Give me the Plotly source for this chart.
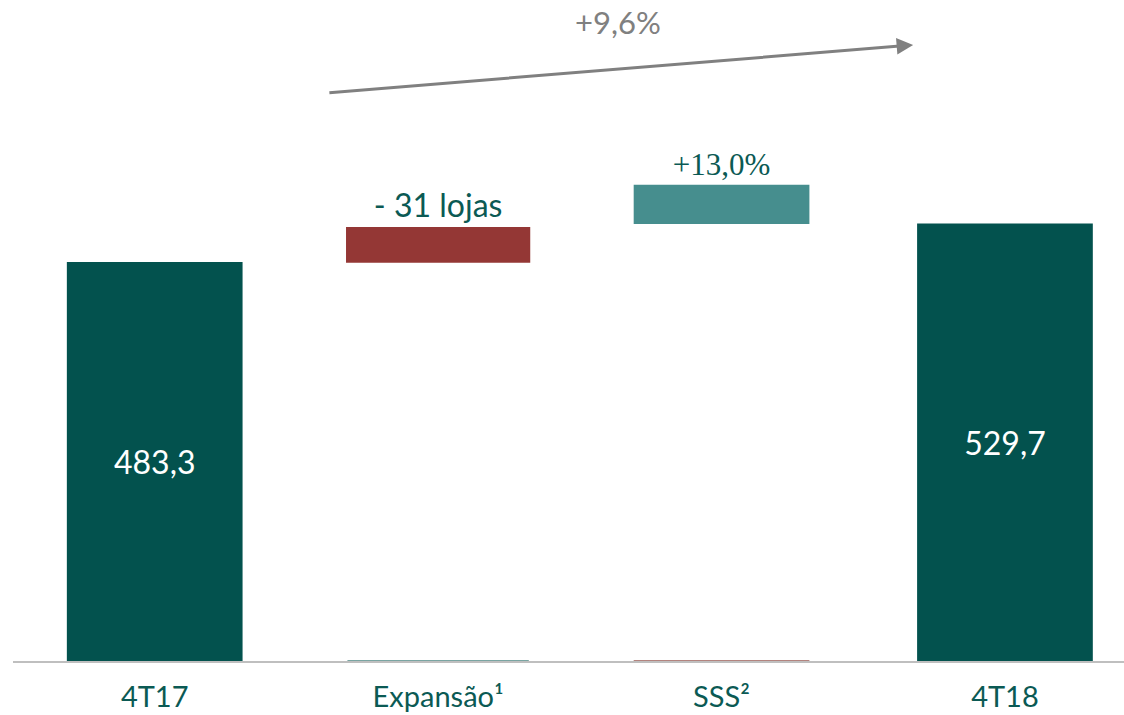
import plotly.graph_objects as go

categories = ["4T17", "Expansão¹", "SSS²", "4T18"]
bar_base = [0, 482.3, 529.3, 0]
bar_values = [483.3, 43.4, 47.3, 529.7]
bar_labels = ["483,3", "- 31 lojas", "+13,0%", "529,7"]
bar_colors = ["#03524E", "#943735", "#468E8E", "#03524E"]
foot_values = [0, 1.2, 1.2, 0]
foot_colors = ["#03524E", "#7AA5A2", "#B3847F", "#03524E"]
total_change = "+9,6%"

label_color = "#0B5A54"
fig = go.Figure()
fig.add_trace(go.Bar(
    x=categories, y=foot_values, marker=dict(color=foot_colors, line=dict(width=0)),
    width=[0.62, 0.64, 0.62, 0.62],
    hoverinfo="skip", showlegend=False))
fig.add_trace(go.Bar(
    x=categories, y=bar_values, base=bar_base,
    width=[0.62, 0.65, 0.62, 0.62],
    marker=dict(color=bar_colors, line=dict(width=0)),
    text=bar_labels,
    textposition=["inside", "outside", "outside", "inside"],
    insidetextanchor="middle",
    textfont=dict(
        family=["Lato", "Lato", "Liberation Serif", "Lato"],
        size=[32, 32, 31, 32],
        color=["#FFFFFF", label_color, label_color, "#FFFFFF"]),
    cliponaxis=False, showlegend=False))

fig.add_annotation(
    x=2.676, y=746, ax=0.611, ay=688, xref="x", yref="y", axref="x", ayref="y",
    showarrow=True, arrowhead=2, arrowsize=1.1, arrowwidth=3, arrowcolor="#808080",
    text="")
fig.add_annotation(
    x=1.635, y=1.0, xref="x", yref="paper", yanchor="middle", yshift=18,
    text=total_change, showarrow=False,
    font=dict(family="Lato", size=31, color="#808080"))

fig.update_layout(
    width=1124, height=715,
    margin=dict(l=13, r=0, t=40, b=54),
    paper_bgcolor="white", plot_bgcolor="white",
    barmode="overlay",
    xaxis=dict(range=[-0.5, 3.42], showline=True, linecolor="#BFBFBF", linewidth=2,
               showgrid=False, zeroline=False, ticks="outside", ticklen=9,
               tickcolor="rgba(0,0,0,0)",
               tickfont=dict(family="Lato", size=29, color=label_color)),
    yaxis=dict(range=[0, 752], visible=False),
)

fig.write_html("out.html", config={"displayModeBar": False},
               post_script="document.body.style.margin='0';")
